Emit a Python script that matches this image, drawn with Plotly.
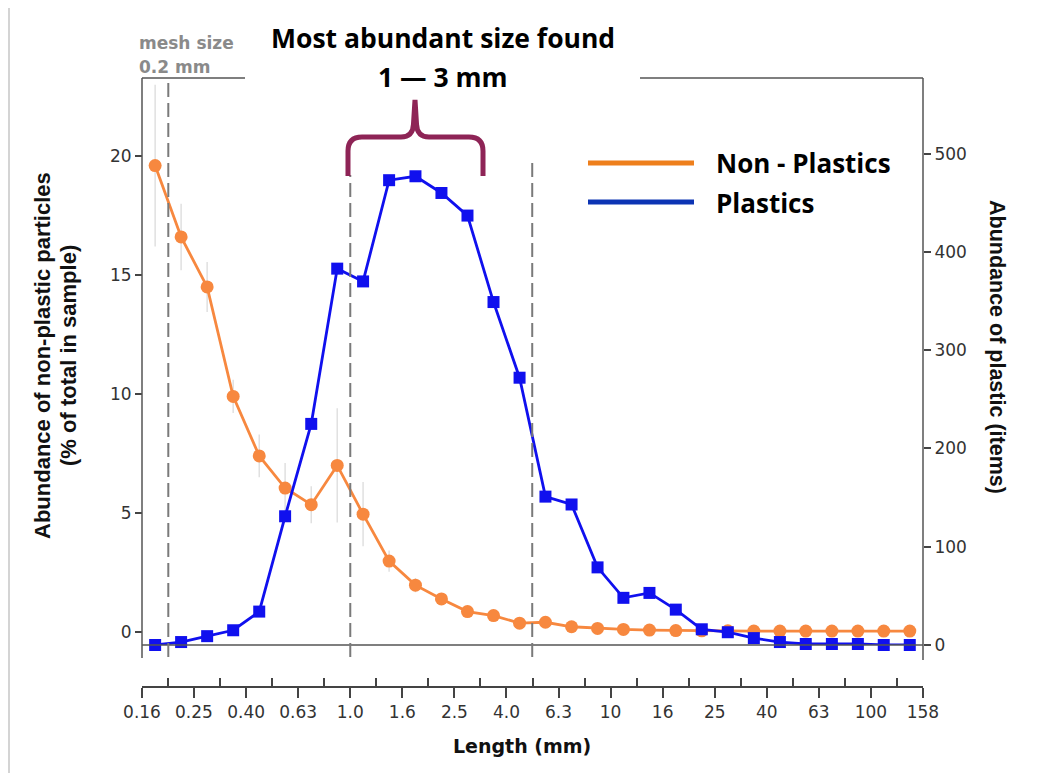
import plotly.graph_objects as go

# ---------------- data ----------------
length_mm = [0.178, 0.224, 0.282, 0.355, 0.447, 0.562, 0.708, 0.891, 1.12, 1.41,
             1.78, 2.24, 2.82, 3.55, 4.47, 5.62, 7.08, 8.91, 11.2, 14.1,
             17.8, 22.4, 28.2, 35.5, 44.7, 56.2, 70.8, 89.1, 112, 141]
non_plastic_pct = [19.6, 16.6, 14.5, 9.9, 7.4, 6.05, 5.35, 7.0, 4.95, 2.98,
                   1.97, 1.39, 0.86, 0.69, 0.37, 0.41, 0.22, 0.15, 0.11, 0.08,
                   0.06, 0.05, 0.05, 0.04, 0.04, 0.04, 0.04, 0.04, 0.04, 0.04]
non_plastic_err = [3.4, 1.4, 1.05, 0.7, 0.9, 1.05, 0.78, 2.4, 1.35, 0.45,
                   0.3, 0.25, 0.2, 0.15, 0.1, 0.1, 0.06, 0.05, 0.04, 0.03,
                   0.03, 0.02, 0.02, 0.02, 0.02, 0.02, 0.02, 0.02, 0.02, 0.02]
plastic_items = [0, 3, 9, 15, 34, 131, 225, 383, 370, 473,
                 477, 460, 437, 349, 272, 151, 143, 79, 48, 53,
                 36, 16, 13, 7, 3, 1, 1, 1, 0, 0]

x_tickvals = [0.1585, 0.251, 0.398, 0.631, 1.0, 1.585, 2.512, 3.981, 6.31, 10.0,
              15.85, 25.12, 39.81, 63.1, 100.0, 158.4]
x_ticktext = ["0.16", "0.25", "0.40", "0.63", "1.0", "1.6", "2.5", "4.0", "6.3", "10",
              "16", "25", "40", "63", "100", "158"]
x_minorvals = [0.2, 0.316, 0.501, 0.794, 1.259, 1.995, 3.162, 5.012, 7.943, 12.59,
               19.95, 31.62, 50.12, 79.43, 125.9]
left_ticks = [0, 5, 10, 15, 20]
right_ticks = [0, 100, 200, 300, 400, 500]
ref_lines_mm = [0.2, 1.0, 5.0]

# ---------------- geometry (reference page pixels; page body has an 8px margin) ----
OFF = 8
W, H = 1056 - OFF, 773 - OFF
L, R, T, B = 142, 923, 78, 687


def px(x):
    return (x - L) / (R - L)


def py(y):
    return (B - y) / (B - T)


ORANGE = "#F7883F"
BLUE = "#1010EE"
AX = "#444444"
TICKFONT = dict(family="DejaVu Sans", size=17, color="#333333")
TITLEFAM = "Liberation Sans"
BIGFAM = "Open Sans"

fig = go.Figure()
fig.add_trace(go.Scatter(
    x=length_mm, y=non_plastic_pct, name="Non - Plastics", yaxis="y", xaxis="x",
    mode="lines+markers", cliponaxis=False,
    line=dict(color=ORANGE, width=2.8),
    marker=dict(symbol="circle", size=13, color=ORANGE),
    error_y=dict(type="data", array=non_plastic_err, visible=True,
                 color="#e0e0e0", thickness=1.5, width=0),
))
fig.add_trace(go.Scatter(
    x=length_mm, y=plastic_items, name="Plastics", yaxis="y2", xaxis="x",
    mode="lines+markers", cliponaxis=False,
    line=dict(color=BLUE, width=2.8),
    marker=dict(symbol="square", size=12, color=BLUE),
))

shapes = []
line = dict(color="#555555", width=1.5)
shapes += [
    dict(type="line", xref="paper", yref="paper", x0=0, x1=0, y0=py(658), y1=1, line=line),
    dict(type="line", xref="paper", yref="paper", x0=1, x1=1, y0=py(660), y1=1, line=line),
    dict(type="line", xref="paper", yref="paper", x0=0, x1=1, y0=py(645), y1=py(645), line=line),
    dict(type="line", xref="paper", yref="paper", x0=0, x1=px(245), y0=1, y1=1, line=line),
    dict(type="line", xref="paper", yref="paper", x0=px(640), x1=1, y0=1, y1=1, line=line),
]
tops = [T, 175, 162]
for v, top in zip(ref_lines_mm, tops):
    shapes.append(dict(type="line", xref="x", yref="paper", x0=v, x1=v,
                       y0=py(657), y1=py(top),
                       line=dict(color="#7a7a7a", width=2, dash="14px,6px")))
shapes.append(dict(type="line", xref="paper", yref="paper", x0=px(588), x1=px(694),
                   y0=py(163), y1=py(163), line=dict(color="#EE7F1C", width=5)))
shapes.append(dict(type="line", xref="paper", yref="paper", x0=px(588), x1=px(694),
                   y0=py(202), y1=py(202), line=dict(color="#0C34B4", width=5)))


def P(x, y):
    return f"{px(x):.5f},{py(y):.5f}"


brace = ("M" + P(348, 176) + " L" + P(348, 151) + " Q" + P(348, 137) + " " + P(362, 137) +
         " L" + P(401, 137) + " Q" + P(413, 137) + " " + P(413.5, 124) +
         " L" + P(415, 100) + " L" + P(416.5, 124) +
         " Q" + P(417, 137) + " " + P(429, 137) +
         " L" + P(469, 137) + " Q" + P(483, 137) + " " + P(483, 151) +
         " L" + P(483, 176))
shapes.append(dict(type="path", xref="paper", yref="paper", path=brace,
                   line=dict(color="#8E2456", width=5)))
shapes.append(dict(type="line", xref="paper", yref="paper", x0=px(9), x1=px(9),
                   y0=py(773), y1=py(0), line=dict(color="#d4d4d4", width=2)))

annotations = []


def ann(text, x, y, size, family="DejaVu Sans", color="#111111", xanchor="center",
        angle=0):
    annotations.append(dict(text=text, x=px(x), y=py(y), xref="paper", yref="paper",
                            showarrow=False, xanchor=xanchor, yanchor="middle",
                            textangle=angle,
                            font=dict(family=family, size=size, color=color)))


ann("<b>Most abundant size found</b>", 443, 38, 26.5, family=BIGFAM, color="#000000")
ann("<b>1 — 3 mm</b>", 443, 77, 26.5, family=BIGFAM, color="#000000")
ann("<b>mesh size</b>", 137, 43, 17, color="#8a8a8a", xanchor="left")
ann("<b>0.2 mm</b>", 137, 67, 17, color="#8a8a8a", xanchor="left")
ann("<b>Non - Plastics</b>", 714, 163, 26, family=BIGFAM, color="#000000", xanchor="left")
ann("<b>Plastics</b>", 714, 203, 26, family=BIGFAM, color="#000000", xanchor="left")
ann("<b>Abundance of non-plastic particles</b>", 42, 356, 22, family=TITLEFAM, angle=-90)
ann("<b>(% of total in sample)</b>", 68, 356, 22, family=TITLEFAM, angle=-90)
ann("<b>Abundance of plastic (items)</b>", 997, 347, 21.5, family=TITLEFAM, angle=90)
ann("<b>Length (mm)</b>", 522, 746, 19, family="DejaVu Sans")

fig.update_layout(
    width=W, height=H, autosize=False,
    margin=dict(l=L - OFF, r=W - (R - OFF), t=T - OFF, b=H - (B - OFF), pad=0),
    paper_bgcolor="white", plot_bgcolor="white",
    showlegend=False,
    xaxis=dict(type="log", range=[-0.8, 2.2], anchor="free", position=0, domain=[0, 1],
               showline=True, linecolor=AX, linewidth=1.5, showgrid=False, zeroline=False,
               tickmode="array", tickvals=x_tickvals, ticktext=x_ticktext,
               ticks="outside", ticklen=10, tickwidth=1.5, tickcolor=AX,
               tickfont=TICKFONT,
               minor=dict(tickmode="array", tickvals=x_minorvals, ticks="inside",
                          ticklen=8, tickwidth=1.5, tickcolor=AX, showgrid=False)),
    yaxis=dict(domain=[py(645), 1], range=[-0.546, 23.28], anchor="free", position=0,
               showline=False, showgrid=False, zeroline=False,
               tickmode="array", tickvals=left_ticks,
               ticks="outside", ticklen=7, tickwidth=1.5, tickcolor=AX,
               tickfont=TICKFONT),
    yaxis2=dict(overlaying="y", side="right", range=[0, 577], anchor="free", position=1,
                showline=False, showgrid=False, zeroline=False,
                tickmode="array", tickvals=right_ticks,
                ticks="outside", ticklen=7, tickwidth=1.5, tickcolor=AX,
                tickfont=TICKFONT),
    shapes=shapes,
    annotations=annotations,
)

fig.write_html("out.html")
